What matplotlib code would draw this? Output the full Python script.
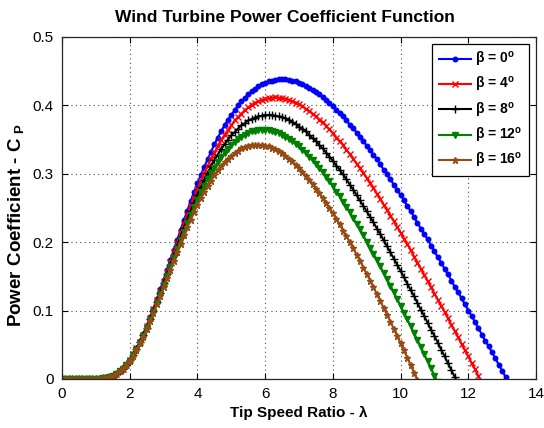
import numpy as np
import matplotlib
matplotlib.use("Agg")
import matplotlib.pyplot as plt

plt.rcParams['font.family'] = ['Liberation Sans', 'DejaVu Sans']
plt.rcParams['mathtext.fontset'] = 'custom'
plt.rcParams['mathtext.rm'] = 'Liberation Sans'
plt.rcParams['mathtext.bf'] = 'Liberation Sans:bold'
plt.rcParams['mathtext.it'] = 'Liberation Sans:italic'

# Tip speed ratio grid (step 0.1)
tsr = np.round(np.arange(0, 133) * 0.1, 1)

zeros_low = [0.0] * 12 + [0.001]  # lambda 0.0 .. 1.2

cp_b0 = zeros_low + [
    0.001, 0.003, 0.005, 0.007, 0.011, 0.016, 0.021, 0.028, 0.036, 0.045,
    0.055, 0.066, 0.078, 0.090, 0.103, 0.117, 0.131, 0.145, 0.160, 0.174,
    0.189, 0.203, 0.218, 0.232, 0.246, 0.260, 0.273, 0.286, 0.298, 0.310,
    0.321, 0.332, 0.343, 0.353, 0.362, 0.371, 0.379, 0.386, 0.393, 0.400,
    0.406, 0.411, 0.416, 0.421, 0.424, 0.428, 0.431, 0.433, 0.435, 0.436,
    0.437, 0.438, 0.438, 0.438, 0.437, 0.436, 0.435, 0.433, 0.431, 0.429,
    0.426, 0.423, 0.420, 0.416, 0.412, 0.408, 0.404, 0.399, 0.394, 0.389,
    0.384, 0.378, 0.372, 0.367, 0.360, 0.354, 0.348, 0.341, 0.335, 0.328,
    0.321, 0.314, 0.306, 0.299, 0.292, 0.284, 0.276, 0.269, 0.261, 0.253,
    0.245, 0.237, 0.228, 0.220, 0.212, 0.204, 0.195, 0.187, 0.178, 0.170,
    0.161, 0.153, 0.144, 0.135, 0.127, 0.118, 0.109, 0.100, 0.092, 0.083,
    0.074, 0.065, 0.056, 0.048, 0.039, 0.030, 0.021, 0.012, 0.003, -0.006]

cp_b4 = zeros_low + [
    0.001, 0.003, 0.005, 0.007, 0.011, 0.015, 0.021, 0.028, 0.036, 0.045,
    0.054, 0.065, 0.077, 0.089, 0.102, 0.115, 0.128, 0.142, 0.156, 0.171,
    0.185, 0.199, 0.213, 0.226, 0.240, 0.253, 0.265, 0.278, 0.289, 0.301,
    0.311, 0.322, 0.331, 0.340, 0.349, 0.357, 0.364, 0.371, 0.378, 0.383,
    0.388, 0.393, 0.397, 0.401, 0.404, 0.406, 0.408, 0.410, 0.411, 0.411,
    0.412, 0.411, 0.411, 0.410, 0.408, 0.406, 0.404, 0.402, 0.399, 0.395,
    0.392, 0.388, 0.384, 0.379, 0.375, 0.370, 0.365, 0.359, 0.353, 0.348,
    0.342, 0.335, 0.329, 0.322, 0.315, 0.308, 0.301, 0.294, 0.286, 0.279,
    0.271, 0.263, 0.255, 0.247, 0.239, 0.231, 0.222, 0.214, 0.205, 0.197,
    0.188, 0.179, 0.170, 0.161, 0.152, 0.143, 0.134, 0.125, 0.116, 0.107,
    0.098, 0.089, 0.079, 0.070, 0.061, 0.051, 0.042, 0.033, 0.023, 0.014,
    0.004, -0.005]

cp_b8 = zeros_low + [
    0.001, 0.003, 0.005, 0.007, 0.011, 0.015, 0.021, 0.028, 0.035, 0.044,
    0.054, 0.064, 0.075, 0.087, 0.100, 0.113, 0.126, 0.140, 0.153, 0.167,
    0.181, 0.194, 0.208, 0.221, 0.233, 0.246, 0.258, 0.269, 0.281, 0.291,
    0.301, 0.311, 0.320, 0.328, 0.336, 0.343, 0.350, 0.356, 0.361, 0.366,
    0.371, 0.374, 0.378, 0.380, 0.382, 0.384, 0.385, 0.386, 0.386, 0.386,
    0.385, 0.384, 0.383, 0.381, 0.379, 0.376, 0.373, 0.369, 0.366, 0.362,
    0.357, 0.352, 0.348, 0.342, 0.337, 0.331, 0.325, 0.319, 0.312, 0.306,
    0.299, 0.292, 0.284, 0.277, 0.269, 0.261, 0.253, 0.245, 0.237, 0.229,
    0.220, 0.212, 0.203, 0.194, 0.185, 0.176, 0.167, 0.158, 0.149, 0.139,
    0.130, 0.121, 0.111, 0.101, 0.092, 0.082, 0.072, 0.063, 0.053, 0.043,
    0.033, 0.023, 0.013, 0.003, -0.007]

cp_b12 = zeros_low + [
    0.001, 0.003, 0.005, 0.007, 0.011, 0.015, 0.021, 0.027, 0.035, 0.043,
    0.053, 0.063, 0.074, 0.086, 0.098, 0.111, 0.124, 0.137, 0.150, 0.164,
    0.177, 0.190, 0.203, 0.215, 0.228, 0.240, 0.251, 0.262, 0.273, 0.282,
    0.292, 0.301, 0.309, 0.317, 0.324, 0.330, 0.336, 0.342, 0.346, 0.351,
    0.354, 0.357, 0.360, 0.362, 0.363, 0.364, 0.364, 0.364, 0.364, 0.363,
    0.361, 0.360, 0.357, 0.354, 0.351, 0.348, 0.344, 0.340, 0.335, 0.331,
    0.325, 0.320, 0.314, 0.308, 0.302, 0.295, 0.289, 0.282, 0.274, 0.267,
    0.259, 0.252, 0.244, 0.235, 0.227, 0.219, 0.210, 0.201, 0.192, 0.183,
    0.174, 0.165, 0.155, 0.146, 0.136, 0.127, 0.117, 0.107, 0.097, 0.087,
    0.077, 0.067, 0.057, 0.047, 0.036, 0.026, 0.016, 0.005, -0.005]

cp_b16 = zeros_low + [
    0.001, 0.003, 0.004, 0.007, 0.011, 0.015, 0.020, 0.027, 0.034, 0.043,
    0.052, 0.062, 0.073, 0.085, 0.096, 0.109, 0.121, 0.134, 0.147, 0.160,
    0.173, 0.185, 0.198, 0.210, 0.222, 0.233, 0.244, 0.254, 0.264, 0.273,
    0.282, 0.290, 0.298, 0.305, 0.311, 0.317, 0.322, 0.326, 0.330, 0.334,
    0.337, 0.339, 0.341, 0.342, 0.342, 0.342, 0.342, 0.341, 0.340, 0.338,
    0.336, 0.333, 0.330, 0.326, 0.322, 0.318, 0.313, 0.308, 0.303, 0.297,
    0.291, 0.285, 0.278, 0.272, 0.265, 0.257, 0.250, 0.242, 0.234, 0.226,
    0.217, 0.209, 0.200, 0.191, 0.182, 0.173, 0.163, 0.154, 0.144, 0.134,
    0.124, 0.114, 0.104, 0.094, 0.084, 0.073, 0.063, 0.052, 0.042, 0.031,
    0.020, 0.009, -0.002]

series = [cp_b0, cp_b4, cp_b8, cp_b12, cp_b16]
labels = ['β = 0$^{\\mathbf{o}}$', 'β = 4$^{\\mathbf{o}}$', 'β = 8$^{\\mathbf{o}}$',
          'β = 12$^{\\mathbf{o}}$', 'β = 16$^{\\mathbf{o}}$']
colors = ['#0000FF', '#FF0000', '#000000', '#008000', '#964B14']
markers = ['.', 'x', '+', 'v', '*']
msizes = [6.5, 4.5, 6, 4.5, 5]

xticks = [0, 2, 4, 6, 8, 10, 12, 14]
yticks = [0, 0.1, 0.2, 0.3, 0.4, 0.5]
ytick_labels = ['0', '0.1', '0.2', '0.3', '0.4', '0.5']

fig = plt.figure(figsize=(5.44, 4.28), dpi=100)
ax = fig.add_axes([62 / 544, 1 - 379 / 428, (536 - 62) / 544, (379 - 37) / 428])

for ys, lab, c, m, ms in zip(series, labels, colors, markers, msizes):
    ax.plot(tsr[:len(ys)], ys, color=c, marker=m, markersize=ms,
            linewidth=1.5, markeredgewidth=1.0, label=lab)

ax.set_xlim(0, 14)
ax.set_ylim(0, 0.5)
ax.set_xticks(xticks)
ax.set_xticklabels([str(t) for t in xticks])
ax.set_yticks(yticks)
ax.set_yticklabels(ytick_labels)
ax.tick_params(direction='in', top=True, right=True, labelsize=11,
               length=4, width=0.8, pad=6)
ax.grid(True, linestyle=(0, (1, 3)), color='0.3', linewidth=0.8)
for sp in ax.spines.values():
    sp.set_linewidth(0.9)
    sp.set_color('0.15')

ax.set_title('Wind Turbine Power Coefficient Function', fontsize=12.5,
             fontweight='bold', pad=11, x=(285 - 62) / 474)
ax.set_xlabel('Tip Speed Ratio - λ', fontsize=11, fontweight='bold', labelpad=3)
ax.set_ylabel('Power Coefficient - C $_{\\mathbf{P}}$', fontsize=13.5,
              fontweight='bold')
ax.yaxis.set_label_coords(-0.076, 0.45)

leg = ax.legend(loc='upper right', prop={'weight': 'bold', 'size': 10},
                fancybox=False, framealpha=1, edgecolor='k',
                handlelength=2.3, labelspacing=0.45, borderaxespad=0.5,
                handletextpad=0.35, borderpad=0.45)
leg.get_frame().set_linewidth(0.9)

fig.savefig('out.png', dpi=100)
